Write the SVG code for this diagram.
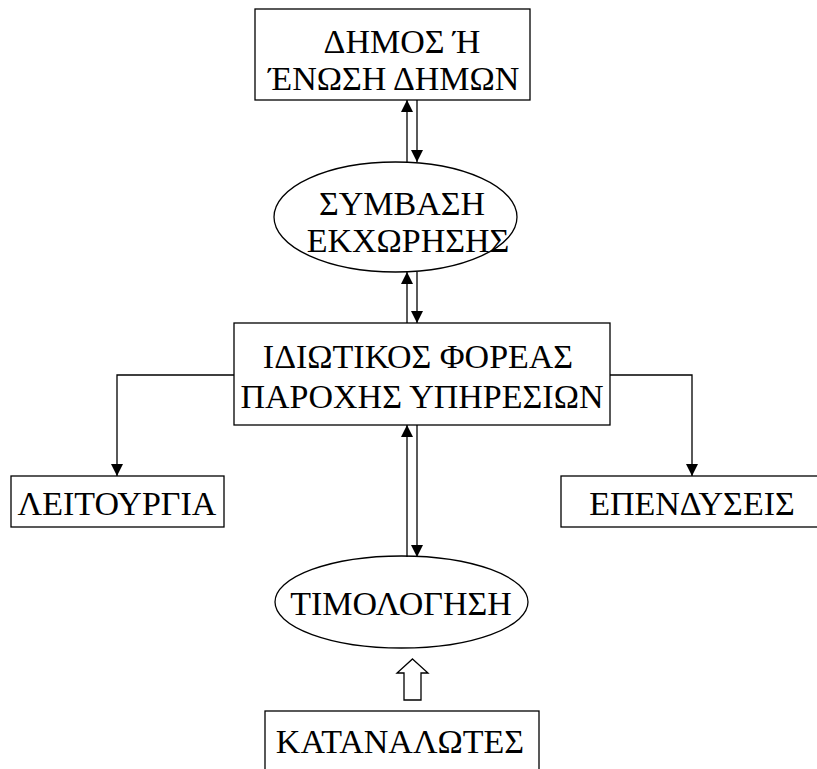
<svg xmlns="http://www.w3.org/2000/svg" width="817" height="769" viewBox="0 0 817 769">
<defs>
<marker id="ah" markerUnits="userSpaceOnUse" markerWidth="12" markerHeight="12" viewBox="0 0 12 12" refX="12" refY="6" orient="auto">
<path d="M0,0 L12,6 L0,12 Z" fill="#000"/>
</marker>
</defs>
<style>
.box{fill:#fff;stroke:#000;stroke-width:1.3}
.t{font-family:"Liberation Serif","Times New Roman",serif;font-size:34px;fill:#000;text-anchor:middle}
.ca{fill:none;stroke:#000;stroke-width:1.3;marker-end:url(#ah)}
</style>
<rect width="817" height="769" fill="#fff"/>
<g id="dimos">
<rect class="box" x="255" y="9" width="275" height="91"/>
<text class="t" x="402" y="53">ΔΗΜΟΣ Ή</text>
<text class="t" x="394" y="90">ΈΝΩΣΗ ΔΗΜΩΝ</text>
</g>
<g id="symvasi">
<ellipse class="box" cx="395.5" cy="217" rx="121.5" ry="55"/>
<text class="t" x="402" y="215">ΣΥΜΒΑΣΗ</text>
<text class="t" x="408" y="252">ΕΚΧΩΡΗΣΗΣ</text>
</g>
<g id="foreas">
<rect class="box" x="234" y="323" width="376" height="102"/>
<text class="t" x="418" y="368">ΙΔΙΩΤΙΚΟΣ ΦΟΡΕΑΣ</text>
<text class="t" x="422" y="408">ΠΑΡΟΧΗΣ ΥΠΗΡΕΣΙΩΝ</text>
</g>
<g id="leitourgia">
<rect class="box" x="11" y="476" width="213" height="51"/>
<text class="t" x="117" y="515">ΛΕΙΤΟΥΡΓΙΑ</text>
</g>
<g id="ependyseis">
<rect class="box" x="561" y="476" width="260" height="51"/>
<text class="t" x="692" y="515">ΕΠΕΝΔΥΣΕΙΣ</text>
</g>
<g id="timologisi">
<ellipse class="box" cx="401.5" cy="602" rx="126.5" ry="46"/>
<text class="t" x="401" y="615">ΤΙΜΟΛΟΓΗΣΗ</text>
</g>
<g id="katanalotes">
<rect class="box" x="265" y="711" width="274" height="80"/>
<text class="t" x="400" y="753">ΚΑΤΑΝΑΛΩΤΕΣ</text>
</g>
<g id="connectors">
<line class="ca" x1="407" y1="162" x2="407" y2="100"/>
<line class="ca" x1="417" y1="100" x2="417" y2="162"/>
<line class="ca" x1="407" y1="323" x2="407" y2="272"/>
<line class="ca" x1="417" y1="272" x2="417" y2="323"/>
<polyline class="ca" points="234,375 117,375 117,476"/>
<polyline class="ca" points="610,375 692,375 692,476"/>
<line class="ca" x1="407" y1="557" x2="407" y2="425"/>
<line class="ca" x1="417" y1="425" x2="417" y2="557"/>
<polygon class="box" points="412.5,659 428,673 421,673 421,700 404,700 404,673 397,673"/>
</g>
</svg>
